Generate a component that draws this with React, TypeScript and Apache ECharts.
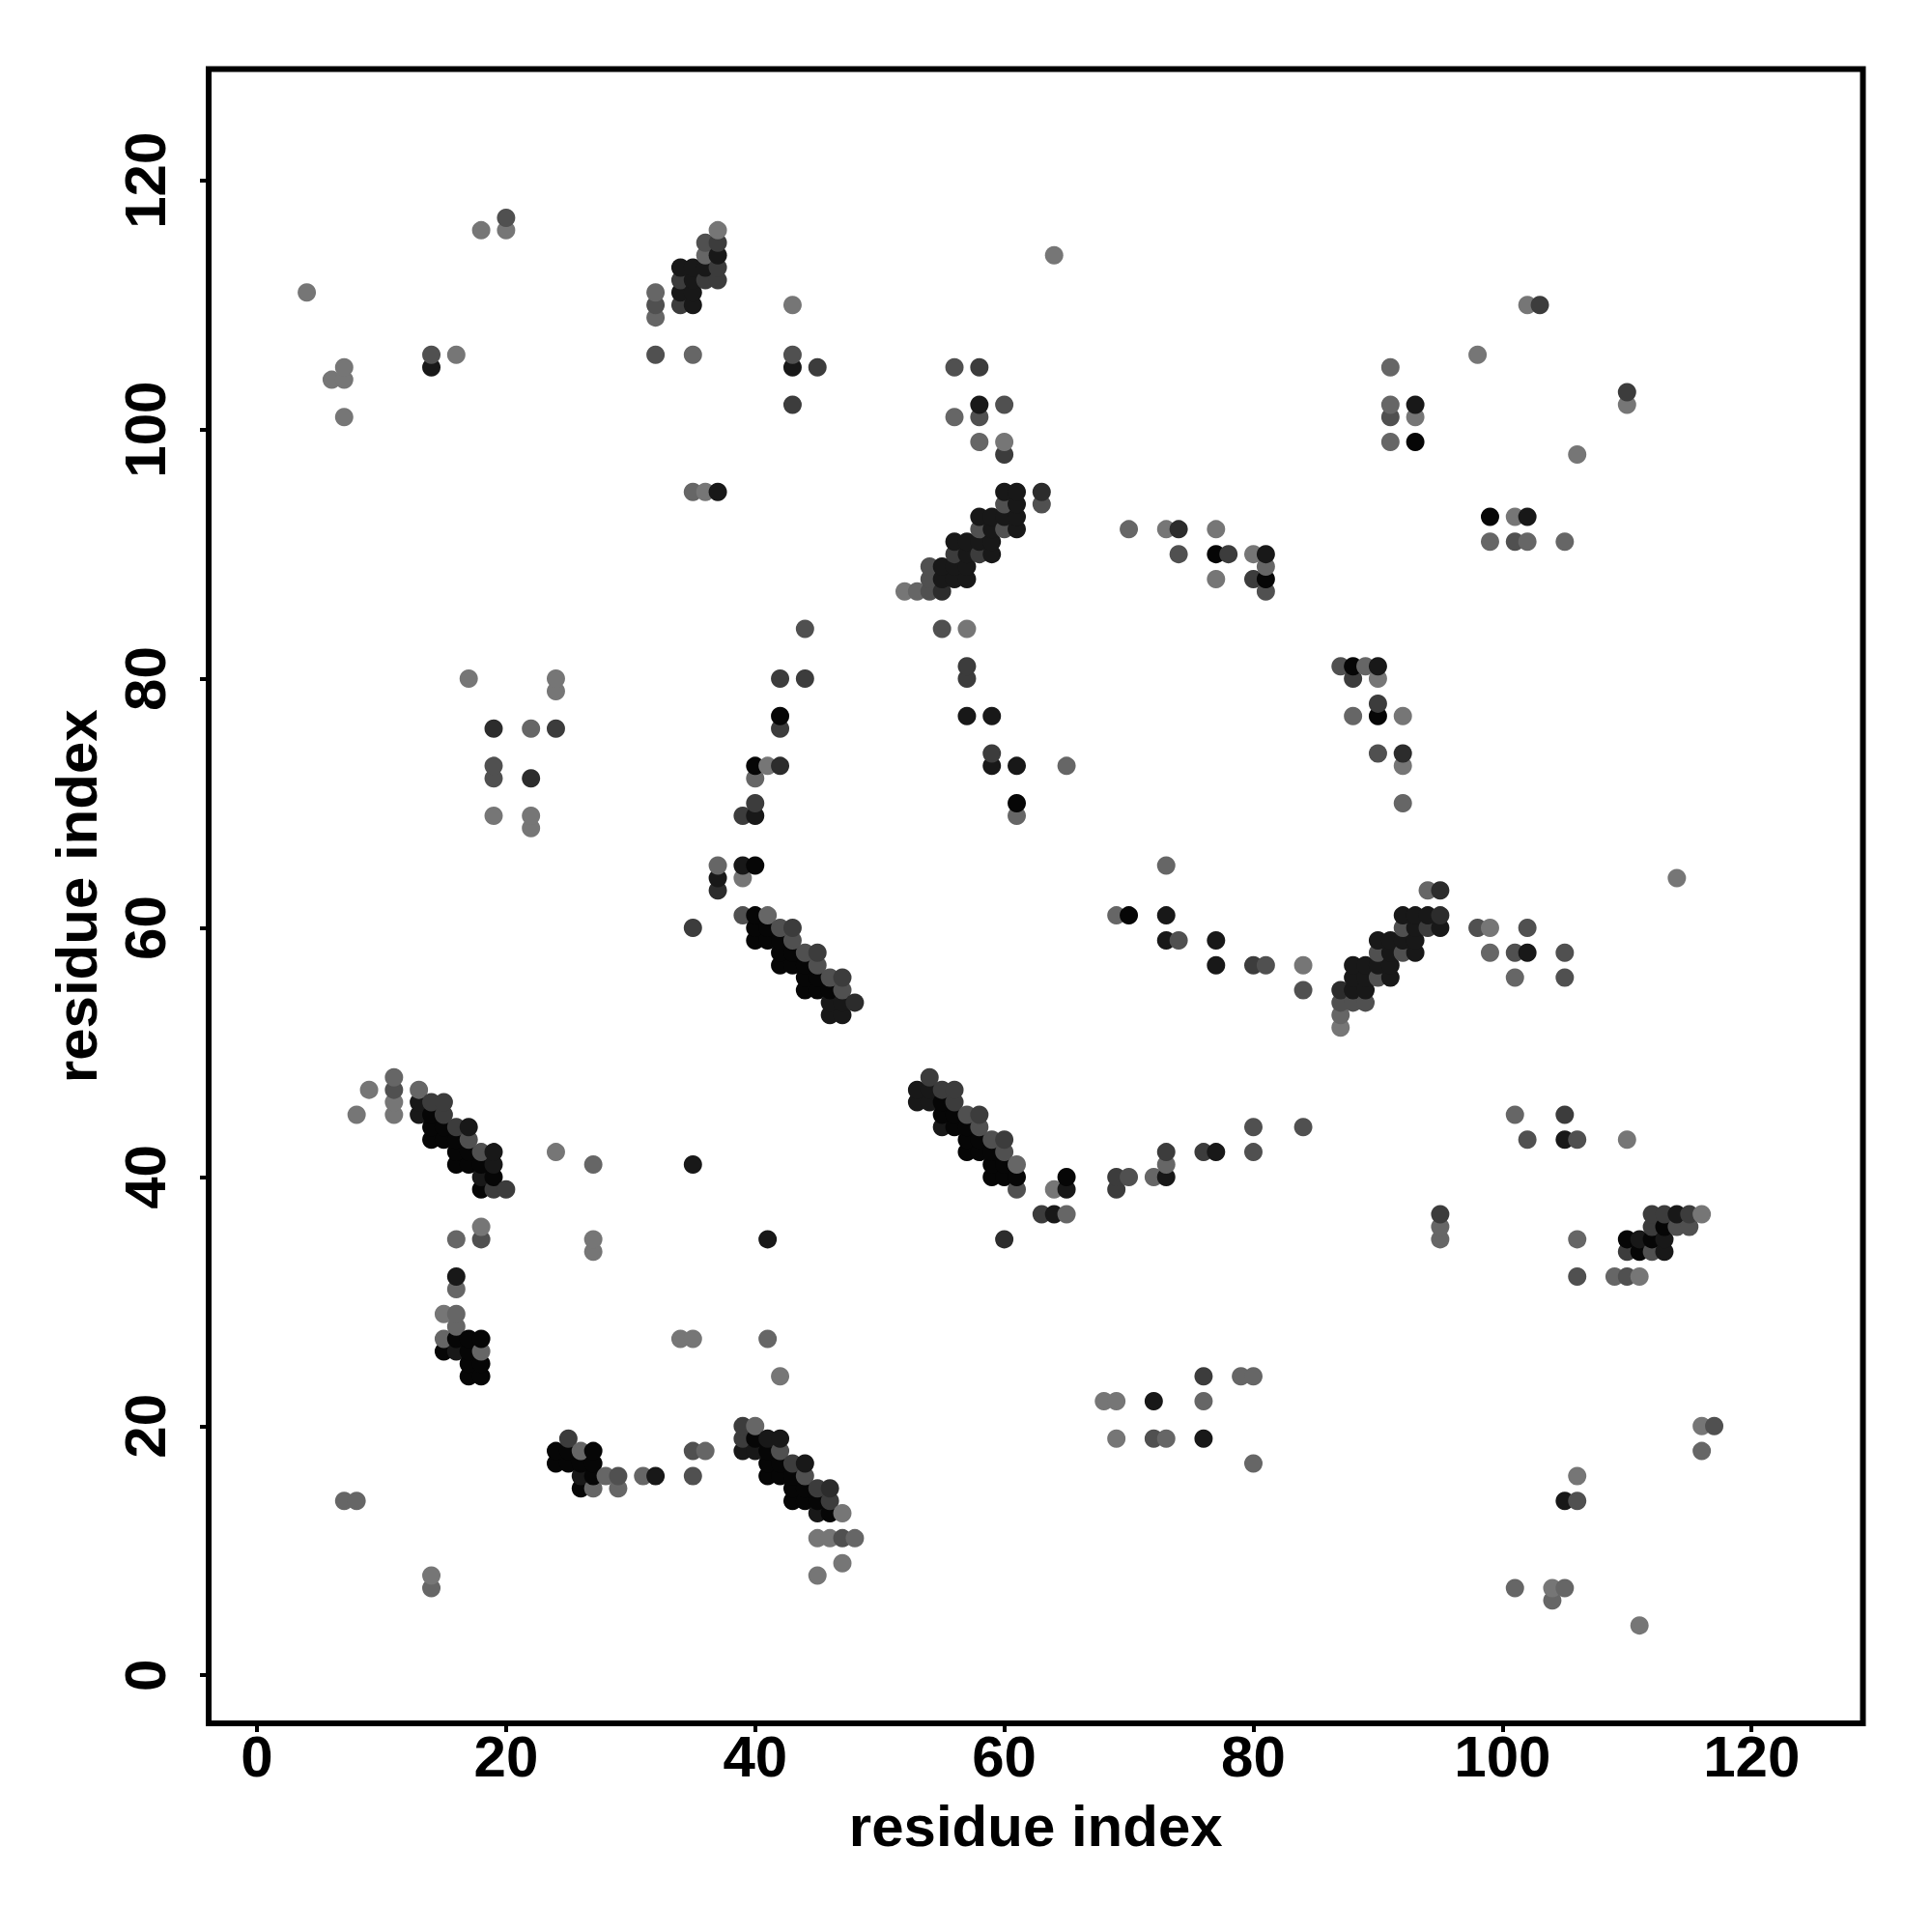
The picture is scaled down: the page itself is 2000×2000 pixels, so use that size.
import React, { useEffect, useRef } from "react";
import * as echarts from "echarts";

type P = [number, number];

const tickValues = [0, 20, 40, 60, 80, 100, 120];

const lightContacts: P[] = [[9,47],[11,46],[11,45],[8,45],[24,42],[18,36],[27,35],[27,34],[15,29],[34,27],[35,27],[42,24],[45,11],[46,11],[47,9],[45,8],[14,8],[39,64],[60,99],[37,116],[99,60],[87,52],[64,39],[116,37],[111,32],[52,87],[57,84],[4,111],[6,104],[7,104],[7,105],[7,101],[16,106],[18,116],[20,116],[43,110],[36,95],[64,114],[93,101],[102,110],[106,98],[41,73],[17,80],[24,80],[24,79],[19,69],[22,69],[22,68],[90,80],[84,57],[116,20],[106,16],[104,7],[111,4],[68,22],[69,22],[69,19],[80,90],[47,13],[110,43],[114,64],[73,92],[110,102],[77,92],[77,88],[92,77],[92,73],[101,93],[98,106]];
const midContacts: P[] = [[11,48],[13,47],[27,41],[16,35],[16,31],[16,29],[16,28],[15,27],[18,26],[41,27],[26,18],[36,18],[28,16],[27,15],[29,15],[31,16],[40,20],[48,11],[7,14],[8,14],[14,7],[37,65],[41,61],[61,41],[58,99],[36,114],[32,111],[32,109],[53,87],[94,63],[99,58],[87,53],[65,37],[109,32],[106,35],[35,106],[35,95],[56,101],[70,92],[91,105],[91,102],[91,99],[99,91],[102,91],[105,91],[40,72],[22,76],[65,73],[61,69],[89,81],[88,77],[92,70],[69,61],[73,65],[101,56],[101,45],[73,41],[72,40],[95,36],[95,35],[116,18],[101,7],[105,7],[104,6],[76,22],[79,24],[80,24],[73,19],[80,17],[81,89]];
const darkContacts: P[] = [[11,47],[18,35],[17,43],[18,42],[44,16],[29,16],[35,18],[35,16],[42,18],[47,11],[39,61],[42,60],[43,59],[44,58],[45,57],[46,56],[47,55],[60,94],[63,94],[58,92],[60,92],[54,89],[54,88],[54,87],[55,84],[36,115],[32,110],[92,60],[98,60],[90,58],[92,58],[90,56],[87,54],[88,54],[89,54],[84,55],[57,45],[58,44],[59,43],[60,42],[61,39],[114,36],[115,36],[112,34],[110,32],[106,32],[20,117],[14,106],[32,106],[43,106],[56,105],[58,101],[60,102],[74,90],[81,87],[91,101],[101,91],[44,84],[19,72],[19,73],[87,81],[90,74],[101,58],[102,60],[105,58],[105,56],[102,43],[106,43],[84,44],[80,44],[80,42],[70,40],[117,20],[106,14],[72,19],[81,57],[74,59]];
const deepContacts: P[] = [[14,46],[15,46],[15,45],[16,44],[20,39],[19,39],[25,19],[39,20],[39,19],[43,17],[45,15],[46,14],[35,60],[43,60],[45,58],[47,56],[60,98],[56,90],[58,90],[37,115],[34,112],[36,112],[37,112],[37,113],[34,110],[94,60],[54,48],[55,47],[56,47],[56,46],[58,45],[60,43],[63,37],[112,37],[113,37],[115,37],[112,36],[110,34],[45,105],[43,102],[58,105],[110,103],[103,110],[78,90],[42,80],[44,80],[42,76],[39,69],[24,76],[57,81],[57,80],[59,74],[80,57],[76,42],[73,42],[69,40],[69,39],[95,37],[105,45],[76,24],[90,78],[88,80],[80,88],[40,70]];
const charcoalContacts: P[] = [[19,76],[22,72],[74,92],[42,73],[92,74],[46,15],[37,63],[48,54],[63,95],[55,87],[95,63],[95,61],[87,55],[60,35]];
const nearBlackContacts: P[] = [[13,46],[13,45],[17,44],[19,42],[19,41],[18,40],[35,41],[41,35],[16,32],[16,26],[26,16],[39,18],[40,18],[41,19],[42,19],[44,17],[45,13],[32,16],[37,64],[39,65],[46,54],[47,54],[46,53],[47,53],[60,95],[61,95],[61,94],[58,93],[59,93],[60,93],[61,93],[59,92],[61,92],[56,91],[57,91],[58,91],[59,91],[57,90],[59,90],[55,89],[56,89],[57,89],[55,88],[56,88],[57,88],[37,114],[36,113],[35,113],[34,113],[35,112],[34,111],[35,111],[35,110],[92,61],[93,61],[94,61],[93,60],[95,60],[90,59],[91,59],[92,59],[93,59],[91,58],[93,58],[88,57],[89,57],[90,57],[91,57],[88,56],[89,56],[91,56],[88,55],[89,55],[53,47],[54,47],[53,46],[54,46],[55,44],[65,39],[64,37],[114,37],[111,35],[113,35],[113,34],[14,105],[43,105],[37,95],[58,102],[81,90],[93,102],[102,93],[40,69],[57,77],[59,77],[59,73],[61,73],[90,81],[73,61],[73,59],[77,59],[77,57],[102,58],[105,43],[73,40],[77,42],[105,14],[72,22],[76,19]];
const blackContacts: P[] = [[14,45],[14,44],[15,44],[14,43],[15,43],[16,43],[16,42],[17,42],[16,41],[17,41],[18,41],[19,40],[18,39],[16,27],[17,27],[18,27],[15,26],[17,26],[17,25],[18,25],[17,24],[18,24],[24,18],[25,18],[27,18],[24,17],[25,17],[26,17],[27,17],[27,16],[26,15],[40,19],[41,18],[41,17],[42,17],[41,16],[42,16],[43,16],[43,15],[44,15],[43,14],[44,14],[45,14],[46,13],[40,65],[40,61],[40,60],[41,60],[40,59],[41,59],[42,59],[42,58],[43,58],[42,57],[43,57],[44,57],[44,56],[45,56],[44,55],[45,55],[46,55],[55,46],[55,45],[56,45],[56,44],[57,44],[57,43],[58,43],[57,42],[58,42],[59,42],[59,41],[60,41],[59,40],[60,40],[61,40],[65,40],[110,35],[112,35],[111,34],[113,36],[40,73],[61,70],[88,81],[70,61],[42,77],[77,90],[81,88],[90,77],[99,93],[93,99]];

const shadeGroups: [P[], string][] = [
  [lightContacts, "#767676"],
  [midContacts, "#666666"],
  [darkContacts, "#505050"],
  [deepContacts, "#3c3c3c"],
  [charcoalContacts, "#2c2c2c"],
  [nearBlackContacts, "#181818"],
  [blackContacts, "#060606"],
];

const FONT = "'Liberation Sans', Arial, sans-serif";

export default function App() {
  const ref = useRef<HTMLDivElement>(null);
  useEffect(() => {
    const chart = echarts.init(ref.current!, undefined, { renderer: "svg" });
    const points = shadeGroups
      .flatMap(([pts, color]) => pts.map((p) => ({ value: p, itemStyle: { color, opacity: 1 } })))
      .sort((a, b) => a.value[0] - b.value[0] || a.value[1] - b.value[1]);
    const axisBase = {
      type: "value" as const,
      name: "residue index",
      nameLocation: "middle" as const,
      nameMoveOverlap: false,
      nameTextStyle: { fontFamily: FONT, fontWeight: "bold" as const, fontSize: 60, color: "#000" },
      splitLine: { show: false },
      axisLine: { show: false, onZero: false },
      axisTick: { show: true, length: 9, lineStyle: { color: "#000", width: 4 }, customValues: tickValues },
    };
    chart.setOption({
      animation: false,
      backgroundColor: "#fff",
      grid: {
        show: true,
        left: 216,
        top: 71.5,
        width: 1712.5,
        height: 1712.5,
        borderColor: "#000",
        borderWidth: 6,
        backgroundColor: "transparent",
        containLabel: false,
      },
      xAxis: {
        ...axisBase,
        min: -3.88,
        max: 128.94,
        nameGap: 76,
        axisLabel: {
          fontFamily: FONT, fontWeight: "bold", fontSize: 60, color: "#000", margin: 4,
          customValues: tickValues,
        },
      },
      yAxis: {
        ...axisBase,
        min: -3.86,
        max: 128.94,
        nameGap: 107,
        axisLabel: {
          fontFamily: FONT, fontWeight: "bold", fontSize: 60, color: "#000", margin: 36, rotate: 90,
          customValues: tickValues,
        },
      },
      series: [
        {
          type: "scatter",
          symbol: "circle",
          symbolSize: 19,
          data: points,
          silent: true,
          clip: false,
        },
      ],
    });
    return () => chart.dispose();
  }, []);
  return <div ref={ref} style={{ position: "absolute", left: 0, top: 0, width: 2000, height: 2000 }} />;
}
